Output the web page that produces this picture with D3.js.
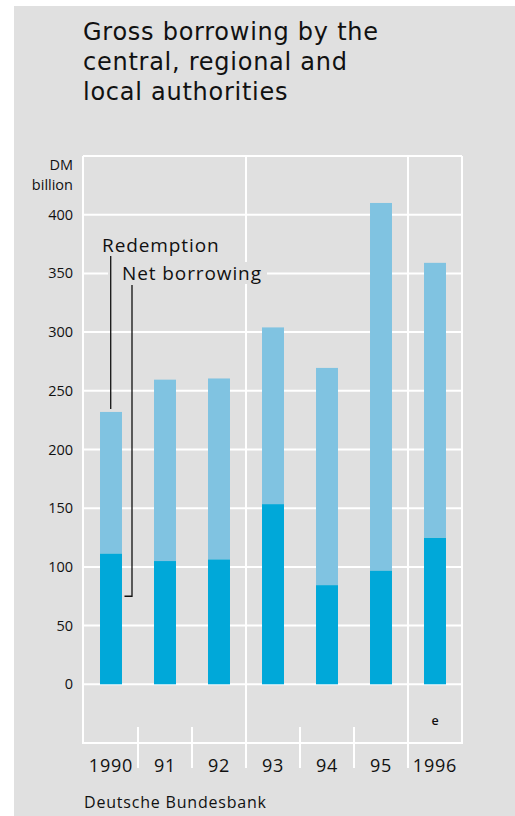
<!DOCTYPE html>
<html>
<head>
<meta charset="utf-8">
<script src="https://cdn.jsdelivr.net/npm/d3@7"></script>
<style>
  body { margin: 0; background: #fff; }
  svg { display: block; font-family: "Open Sans", "Noto Sans", sans-serif; }
</style>
</head>
<body>
<svg id="chart"></svg>
<script>
let years = ['1990', '91', '92', '93', '94', '95', '1996']
// DM billion
let netBorrowing = [111.5, 105, 106.5, 153.5, 84.5, 97, 125]
let redemption = [120.5, 154.5, 154, 150.5, 185, 313, 234]
let yTicks = [0, 50, 100, 150, 200, 250, 300, 350, 400]
let titleLines = ['Gross borrowing by the', 'central, regional and', 'local authorities']

function drawChart () {
  let svgWidth = 515
  let svgHeight = 816
  let left = 84
  let right = 462
  let top = 156
  let bottom = 743

  let svg = d3.select('#chart')
    .attr('width', svgWidth)
    .attr('height', svgHeight)

  svg.append('rect')
    .attr('x', 14).attr('y', 6)
    .attr('width', svgWidth - 14).attr('height', svgHeight - 6)
    .attr('fill', '#e0e0e0')

  // title: tracked so the first line spans about 295px like the original
  let title = svg.append('g')
    .attr('font-family', '"DejaVu Sans", sans-serif')
    .attr('font-size', 24)
    .attr('fill', '#111')
  let titleText = title.selectAll('text')
    .data(titleLines)
    .join('text')
    .attr('x', 83)
    .attr('y', (d, i) => 40 + i * 30)
    .text(d => d)
  let w0 = titleText.node().getComputedTextLength()
  let spacing = (295 - w0) / (titleLines[0].length - 1)
  titleText.attr('letter-spacing', spacing)

  let x = d3.scaleBand()
    .domain(years)
    .range([left, right])
    .paddingInner(0.593)
    .paddingOuter(0.2965)

  let y = d3.scaleLinear()
    .domain([-50, 450])
    .range([bottom, top])

  let grid = svg.append('g').attr('stroke', '#fff').attr('stroke-width', 2)

  // horizontal gridlines and frame
  grid.selectAll('line.h')
    .data(yTicks.concat([450, -50]))
    .join('line')
    .attr('class', 'h')
    .attr('x1', left - 1).attr('x2', right)
    .attr('y1', d => y(d)).attr('y2', d => y(d))

  grid.append('line')
    .attr('x1', left - 1).attr('x2', left - 1)
    .attr('y1', top).attr('y2', bottom + 1)
  grid.append('line')
    .attr('x1', right).attr('x2', right)
    .attr('y1', top).attr('y2', bottom + 1)

  // separators between years
  let step = x.step()
  let seps = years.slice(1).map(d => x(d) - (step - x.bandwidth()) / 2)
  seps.forEach((sx, i) => {
    let long = (i === 2 || i === 5)
    grid.append('line')
      .attr('x1', sx).attr('x2', sx)
      .attr('y1', long ? top : 727)
      .attr('y2', 768)
  })

  // stacked bars
  let bars = svg.append('g')
  bars.selectAll('rect.net')
    .data(years)
    .join('rect')
    .attr('class', 'net')
    .attr('x', d => x(d))
    .attr('width', x.bandwidth())
    .attr('y', (d, i) => y(netBorrowing[i]))
    .attr('height', (d, i) => y(0) - y(netBorrowing[i]))
    .attr('fill', '#00a8d9')

  bars.selectAll('rect.red')
    .data(years)
    .join('rect')
    .attr('class', 'red')
    .attr('x', d => x(d))
    .attr('width', x.bandwidth())
    .attr('y', (d, i) => y(netBorrowing[i] + redemption[i]))
    .attr('height', (d, i) => y(netBorrowing[i]) - y(netBorrowing[i] + redemption[i]))
    .attr('fill', '#80c3e1')

  // y axis labels
  let yAxis = svg.append('g')
  yAxis.selectAll('text')
    .data(yTicks)
    .join('text')
    .attr('x', 73)
    .attr('y', d => y(d) + 5)
    .attr('text-anchor', 'end')
    .attr('font-size', 14.5)
    .attr('fill', '#111')
    .text(d => d)
  yAxis.append('text')
    .attr('x', 73).attr('y', 170)
    .attr('text-anchor', 'end')
    .attr('font-size', 14.5)
    .attr('fill', '#111')
    .text('DM')
  yAxis.append('text')
    .attr('x', 73).attr('y', 190)
    .attr('text-anchor', 'end')
    .attr('font-size', 14.5)
    .attr('fill', '#111')
    .text('billion')

  // x axis labels
  svg.append('g').selectAll('text')
    .data(years)
    .join('text')
    .attr('x', d => x(d) + x.bandwidth() / 2)
    .attr('y', 772)
    .attr('text-anchor', 'middle')
    .attr('font-size', 18)
    .attr('letter-spacing', 0.8)
    .attr('fill', '#111')
    .text(d => d)

  svg.append('text')
    .attr('x', x('1996') + x.bandwidth() / 2)
    .attr('y', 725)
    .attr('text-anchor', 'middle')
    .attr('font-size', 12.5)
    .attr('font-weight', 600)
    .attr('fill', '#111')
    .text('e')

  // legend labels with leader lines
  let x0 = x('1990')
  svg.append('text')
    .attr('x', 102).attr('y', 252)
    .attr('font-size', 19)
    .attr('letter-spacing', 0.9)
    .attr('fill', '#111')
    .text('Redemption')
  svg.append('rect')
    .attr('x', 108).attr('y', 262)
    .attr('width', 159).attr('height', 22)
    .attr('fill', '#e0e0e0')
  svg.append('text')
    .attr('x', 122).attr('y', 280)
    .attr('font-size', 19)
    .attr('letter-spacing', 0.9)
    .attr('fill', '#111')
    .text('Net borrowing')

  let lead = svg.append('g')
    .attr('stroke', '#111')
    .attr('stroke-width', 1.3)
    .attr('fill', 'none')
  lead.append('path')
    .attr('d', `M${x0 + 10.7},256 V${y(netBorrowing[0] + redemption[0]) - 3}`)
  lead.append('path')
    .attr('d', `M132,285 V${y(75)} H${x0 + x.bandwidth() + 2.5}`)

  svg.append('text')
    .attr('x', 84).attr('y', 808)
    .attr('font-size', 16)
    .attr('letter-spacing', 0.8)
    .attr('fill', '#111')
    .text('Deutsche Bundesbank')
}

drawChart()
</script>
</body>
</html>
